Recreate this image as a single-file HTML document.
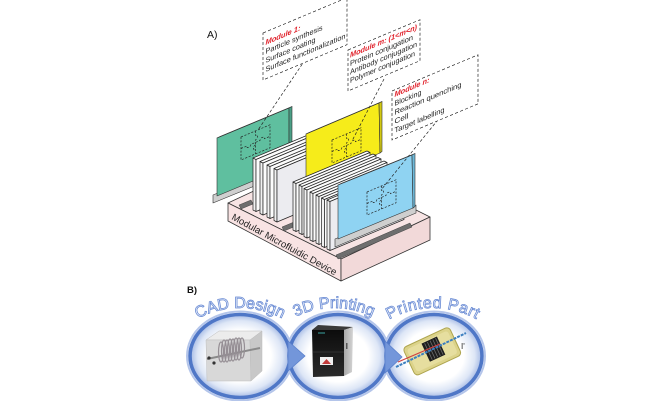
<!DOCTYPE html>
<html><head><meta charset="utf-8">
<style>
html,body{margin:0;padding:0;background:#fff;}
svg{display:block;}
text{font-family:"Liberation Sans",Arial,sans-serif;}
</style></head><body>
<svg width="670" height="401" viewBox="0 0 670 401" xmlns="http://www.w3.org/2000/svg">
<defs>
<radialGradient id="cg" cx="50%" cy="50%" r="50%">
 <stop offset="0" stop-color="#ffffff"/>
 <stop offset="0.62" stop-color="#ffffff"/>
 <stop offset="0.85" stop-color="#dde6f6"/>
 <stop offset="1" stop-color="#a3b8e4"/>
</radialGradient>
<linearGradient id="pf" x1="0" y1="0" x2="0" y2="1">
 <stop offset="0" stop-color="#0c0c0c"/><stop offset="1" stop-color="#2a2a2a"/>
</linearGradient>
<linearGradient id="ps" x1="0" y1="0" x2="1" y2="0">
 <stop offset="0" stop-color="#a8a8a8"/><stop offset="1" stop-color="#d4d4d4"/>
</linearGradient>
<path id="a1" d="M150,398 A90,90 0 0 1 330,398" fill="none"/>
<path id="a2" d="M244,398 A90,90 0 0 1 424,398" fill="none"/>
<path id="a3" d="M343,398 A90,90 0 0 1 523,398" fill="none"/>
</defs>

<!-- A) label -->
<text x="207" y="38" font-size="10.5" fill="#111">A)</text>

<!-- Base -->
<g stroke="#333" stroke-width="0.8" stroke-linejoin="round">
 <polygon points="228,203 318,161 430,217 341,259" fill="#f7e4e4"/>
 <polygon points="228,203 341,259 341,281 228,221" fill="#f8e3e3"/>
 <polygon points="341,259 430,217 430,240 341,281" fill="#f2d9d9"/>
</g>
<g fill="#6e6e6e" stroke="#444" stroke-width="0.5">
 <polygon points="239,205 251,200 253,204 241,209"/>
 <polygon points="282,227 294,222 296,226 284,231"/>
 <polygon points="336,255 410,223 412,227 338,259"/>
</g>
<text transform="translate(231,219) rotate(28.6)" font-size="9.5" fill="#222" textLength="118" lengthAdjust="spacingAndGlyphs">Modular Microfluidic Device</text>

<!-- Green panel -->
<g stroke="#333" stroke-width="0.6" stroke-linejoin="round">
 <polygon points="213,195 262,175 262,183 213,203" fill="#cfcfcf"/>
 <polygon points="217,138 289,108 289,166 217,196" fill="#5fbf9f"/>
 <polygon points="217,138 289,108 292,106.5 220,136.5" fill="#a3dcc9"/>
 <polygon points="289,108 292,106.5 292,164.5 289,166" fill="#4a9f86"/>
</g>

<!-- Group 1 cards -->
<g stroke="#222" stroke-width="0.7" stroke-linejoin="round">
 <polygon points="253,158 256,159.5 256,211.5 253,210" fill="#f2f2f2"/>
 <polygon points="253,158 315,132 318,133.5 256,159.5" fill="#fff"/>
 <polygon points="256,159.5 318,133.5 318,185.5 256,211.5" fill="#fcfcfc"/>
 <polygon points="260,161.5 263,163 263,215 260,213.5" fill="#f2f2f2"/>
 <polygon points="260,161.5 322,135.5 325,137 263,163" fill="#fff"/>
 <polygon points="263,163 325,137 325,189 263,215" fill="#fcfcfc"/>
 <polygon points="267,165 270,166.5 270,218.5 267,217" fill="#f2f2f2"/>
 <polygon points="267,165 329,139 332,140.5 270,166.5" fill="#fff"/>
 <polygon points="270,166.5 332,140.5 332,192.5 270,218.5" fill="#fcfcfc"/>
 <polygon points="274,168.5 277,170 277,222 274,220.5" fill="#f2f2f2"/>
 <polygon points="274,168.5 336,142.5 339,144 277,170" fill="#fff"/>
 <polygon points="277,170 339,144 339,196 277,222" fill="#ececf0"/>
</g>

<!-- Yellow panel -->
<g stroke="#333" stroke-width="0.6" stroke-linejoin="round">
 <polygon points="306,134 379,103 380,153 306,184" fill="#f6ec1a"/>
 <polygon points="306,134 379,103 382,101.5 309,132.5" fill="#fbf59c"/>
 <polygon points="379,103 382,101.5 382,151.5 380,153" fill="#d3c912"/>
</g>

<!-- Group 2 cards -->
<g stroke="#222" stroke-width="0.7" stroke-linejoin="round">
 <polygon points="293,182 296,183.5 296,231.5 293,230" fill="#f2f2f2"/>
 <polygon points="293,182 367,151 370,152.5 296,183.5" fill="#fff"/>
 <polygon points="296,183.5 370,152.5 370,200.5 296,231.5" fill="#fcfcfc"/>
 <polygon points="299,185 302,186.5 302,234.5 299,233" fill="#f2f2f2"/>
 <polygon points="299,185 373,154 376,155.5 302,186.5" fill="#fff"/>
 <polygon points="302,186.5 376,155.5 376,203.5 302,234.5" fill="#fcfcfc"/>
 <polygon points="304,188.5 307,190 307,238 304,236.5" fill="#f2f2f2"/>
 <polygon points="304,188.5 378,157.5 381,159 307,190" fill="#fff"/>
 <polygon points="307,190 381,159 381,207 307,238" fill="#fcfcfc"/>
 <polygon points="310,192 313,193.5 313,241.5 310,240" fill="#f2f2f2"/>
 <polygon points="310,192 384,161 387,162.5 313,193.5" fill="#fff"/>
 <polygon points="313,193.5 387,162.5 387,210.5 313,241.5" fill="#fcfcfc"/>
 <polygon points="316,195 319,196.5 319,244.5 316,243" fill="#f2f2f2"/>
 <polygon points="316,195 390,164 393,165.5 319,196.5" fill="#fff"/>
 <polygon points="319,196.5 393,165.5 393,213.5 319,244.5" fill="#fcfcfc"/>
 <polygon points="321.5,198 324.5,199.5 324.5,247.5 321.5,246" fill="#f2f2f2"/>
 <polygon points="321.5,198 395.5,167 398.5,168.5 324.5,199.5" fill="#fff"/>
 <polygon points="324.5,199.5 398.5,168.5 398.5,216.5 324.5,247.5" fill="#fcfcfc"/>
 <polygon points="327,200 330,201.5 330,250.5 327,249" fill="#f2f2f2"/>
 <polygon points="327,200 401,169 404,170.5 330,201.5" fill="#fff"/>
 <polygon points="330,201.5 404,170.5 404,219.5 330,250.5" fill="#ececf0"/>
</g>

<!-- Blue panel -->
<g stroke="#333" stroke-width="0.6" stroke-linejoin="round">
 <polygon points="335,239 416,205 416,213 335,247" fill="#cfcfcf"/>
 <polygon points="338,185 412,155 413,208 338,239" fill="#8fd3f2"/>
 <polygon points="338,185 412,155 415,153.5 341,183.5" fill="#c8ebfa"/>
 <polygon points="412,155 415,153.5 415,206.5 413,208" fill="#6db8d8"/>
</g>

<!-- Puzzles -->
<g fill="none" stroke="#222" stroke-width="0.7" stroke-dasharray="2 1.4">
 <g transform="translate(241,137) skewY(-22.8)">
  <rect x="0" y="0" width="29" height="23"/>
  <path d="M14.5,0 V4.5 a2.2,2.2 0 1 1 0,4.4 V23 M0,11.5 H5.5 a2.2,2.2 0 1 0 4.4,0 H19 a2.2,2.2 0 1 1 4.4,0 H29 M14.5,14 a2.2,2.2 0 1 0 0,4.4"/>
 </g>
 <g transform="translate(332,140) skewY(-22.8)">
  <rect x="0" y="0" width="29" height="23"/>
  <path d="M14.5,0 V4.5 a2.2,2.2 0 1 1 0,4.4 V23 M0,11.5 H5.5 a2.2,2.2 0 1 0 4.4,0 H19 a2.2,2.2 0 1 1 4.4,0 H29 M14.5,14 a2.2,2.2 0 1 0 0,4.4"/>
 </g>
 <g transform="translate(367,192) skewY(-22.8)">
  <rect x="0" y="0" width="29" height="23"/>
  <path d="M14.5,0 V4.5 a2.2,2.2 0 1 1 0,4.4 V23 M0,11.5 H5.5 a2.2,2.2 0 1 0 4.4,0 H19 a2.2,2.2 0 1 1 4.4,0 H29 M14.5,14 a2.2,2.2 0 1 0 0,4.4"/>
 </g>
 <!-- pointers -->
 <path d="M305,60 L258,130" stroke-dasharray="3 2"/>
 <path d="M384,79 L352,141" stroke-dasharray="3 2"/>
 <path d="M441,116 L381,190" stroke-dasharray="3 2"/>
</g>

<!-- Callout boxes -->
<g transform="translate(263,33) skewY(-22.8)">
 <rect x="0" y="0" width="84" height="47" fill="#fff" stroke="#222" stroke-width="0.7" stroke-dasharray="3 2"/>
 <text x="2.5" y="13" font-size="7.5" fill="#e0202a" font-weight="bold" font-style="italic" textLength="35" lengthAdjust="spacingAndGlyphs">Module 1:</text>
 <text x="2.5" y="22" font-size="7.5" fill="#222" textLength="57" lengthAdjust="spacingAndGlyphs">Particle synthesis</text>
 <text x="2.5" y="31" font-size="7.5" fill="#222" textLength="50" lengthAdjust="spacingAndGlyphs">Surface coating</text>
 <text x="2.5" y="40" font-size="7.5" fill="#222" textLength="80" lengthAdjust="spacingAndGlyphs">Surface functionalization</text>
</g>
<g transform="translate(348,50) skewY(-22.8)">
 <rect x="0" y="0" width="72" height="41" fill="#fff" stroke="#222" stroke-width="0.7" stroke-dasharray="3 2"/>
 <text x="2" y="8.5" font-size="7.5" fill="#e0202a" font-weight="bold" font-style="italic" textLength="67" lengthAdjust="spacingAndGlyphs">Module m: (1&lt;m&lt;n)</text>
 <text x="2" y="17" font-size="7.5" fill="#222" textLength="63" lengthAdjust="spacingAndGlyphs">Protein conjugation</text>
 <text x="2" y="25.5" font-size="7.5" fill="#222" textLength="67" lengthAdjust="spacingAndGlyphs">Antibody conjugation</text>
 <text x="2" y="34" font-size="7.5" fill="#222" textLength="65" lengthAdjust="spacingAndGlyphs">Polymer conjugation</text>
</g>
<g transform="translate(392,91) skewY(-22.8)">
 <rect x="0" y="0" width="86" height="49" fill="#fff" stroke="#222" stroke-width="0.7" stroke-dasharray="3 2"/>
 <text x="2.5" y="7" font-size="7.5" fill="#e0202a" font-weight="bold" font-style="italic" textLength="35" lengthAdjust="spacingAndGlyphs">Module n:</text>
 <text x="2.5" y="16" font-size="7.5" fill="#222" textLength="27" lengthAdjust="spacingAndGlyphs">Blocking</text>
 <text x="2.5" y="25" font-size="7.5" fill="#222" textLength="67" lengthAdjust="spacingAndGlyphs">Reaction quenching</text>
 <text x="2.5" y="34" font-size="7.5" fill="#222" textLength="14" lengthAdjust="spacingAndGlyphs">Cell</text>
 <text x="2.5" y="43" font-size="7.5" fill="#222" textLength="50" lengthAdjust="spacingAndGlyphs">Target labelling</text>
</g>

<!-- B) -->
<text x="187" y="293" font-size="9.5" font-weight="bold" fill="#111">B)</text>

<g fill="none" stroke="#b4c5ea" stroke-width="2">
 <ellipse cx="240" cy="356" rx="53" ry="44.5"/>
 <ellipse cx="338" cy="356" rx="52" ry="44.5"/>
 <ellipse cx="434" cy="356" rx="51" ry="44.5"/>
</g>
<g stroke="#4f77c7" stroke-width="3.6">
 <ellipse cx="240" cy="356" rx="50" ry="41.5" fill="url(#cg)"/>
 <ellipse cx="338" cy="356" rx="49" ry="41.5" fill="url(#cg)"/>
 <ellipse cx="434" cy="356" rx="48" ry="41.5" fill="url(#cg)"/>
</g>
<g fill="#7396da" stroke="#5a80cc" stroke-width="0.8">
 <polygon points="288,341 305,356 288,371"/>
 <polygon points="385,341 402,357 385,373"/>
</g>

<!-- Titles -->
<g font-size="16" fill="#f1f5fd" stroke="#6b8cd4" stroke-width="0.8">
 <text><textPath href="#a1" startOffset="50%" text-anchor="middle">CAD Design</textPath></text>
 <text><textPath href="#a2" startOffset="50%" text-anchor="middle">3D Printing</textPath></text>
 <text letter-spacing="0.6"><textPath href="#a3" startOffset="50%" text-anchor="middle">Printed Part</textPath></text>
</g>

<!-- C1 content: CAD cube -->
<g stroke="#bdbdbd" stroke-width="0.5">
 <polygon points="206,340 219,331 262,331 250,340" fill="#ececec"/>
 <polygon points="206,340 250,340 251,381 207,381" fill="#d8d8d8"/>
 <polygon points="250,340 262,331 262,371 251,381" fill="#c8c8c8"/>
</g>
<line x1="207" y1="359" x2="260" y2="348" stroke="#8a8a8a" stroke-width="2"/>
<g fill="none" stroke="#958e94" stroke-width="1.2">
 <ellipse cx="221" cy="352" rx="2.5" ry="10"/>
 <ellipse cx="224" cy="351" rx="2.5" ry="11"/>
 <ellipse cx="227" cy="351" rx="2.5" ry="11"/>
 <ellipse cx="230" cy="350" rx="2.5" ry="11"/>
 <ellipse cx="233" cy="350" rx="2.5" ry="11"/>
 <ellipse cx="236" cy="349" rx="2.5" ry="11"/>
 <ellipse cx="239" cy="349" rx="2.5" ry="11"/>
 <ellipse cx="242" cy="348" rx="2.5" ry="10"/>
</g>
<circle cx="209" cy="358" r="1.6" fill="#333"/>
<circle cx="214" cy="363" r="1.6" fill="#333"/>

<!-- C2 content: printer -->
<polygon points="312,330 318,325 353,327 344,330" fill="#3a3a3a"/>
<polygon points="312,330 344,330 344,376 313,377" fill="url(#pf)"/>
<polygon points="344,330 353,327 352,372 344,376" fill="url(#ps)"/>
<line x1="313" y1="352" x2="344" y2="352" stroke="#3a3a3a" stroke-width="0.8"/>
<line x1="318" y1="333" x2="325" y2="333" stroke="#3aa3a0" stroke-width="1"/>
<rect x="320" y="357" width="13" height="8" fill="#efefef"/>
<polygon points="322,364 326.5,359 331,364" fill="#c23b3b"/>
<rect x="346" y="343" width="1.5" height="6" fill="#555"/>

<!-- C3 content: printed part -->
<g transform="rotate(-25 432 352)">
 <rect x="407" y="336" width="51" height="31" rx="4" fill="#dcd38a" stroke="#aea54f" stroke-width="1"/>
 <rect x="410" y="339" width="45" height="25" rx="3" fill="#e9e3a8" opacity="0.7"/>
 <rect x="426" y="340" width="17" height="20" fill="#1e1e1e"/>
 <g stroke="#6d6d6d" stroke-width="0.8">
  <line x1="429" y1="341" x2="429" y2="359"/>
  <line x1="432" y1="341" x2="432" y2="359"/>
  <line x1="435" y1="341" x2="435" y2="359"/>
  <line x1="438" y1="341" x2="438" y2="359"/>
  <line x1="441" y1="341" x2="441" y2="359"/>
 </g>
</g>
<line x1="396" y1="367" x2="466" y2="333" stroke="#3c7fc0" stroke-width="2" stroke-dasharray="3 1"/>
<line x1="398" y1="362" x2="440" y2="344" stroke="#d04040" stroke-width="1.2"/>
<text x="461" y="349" font-size="8" fill="#222">I'</text>
</svg>
</body></html>
